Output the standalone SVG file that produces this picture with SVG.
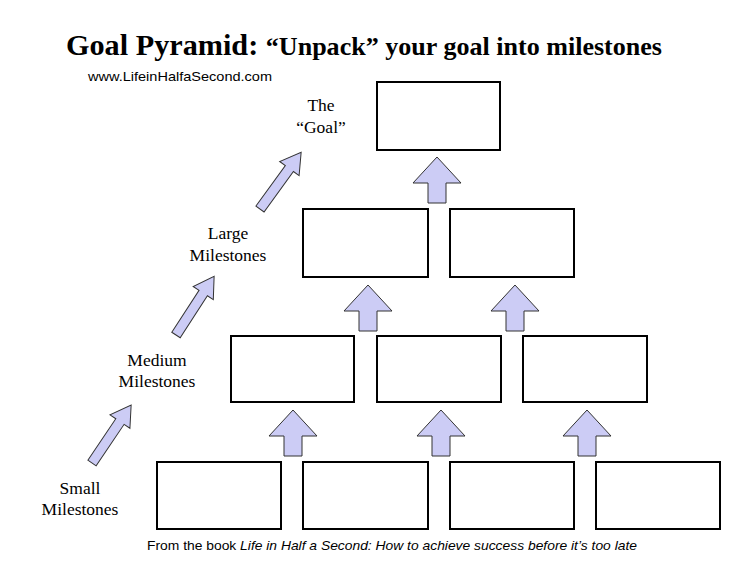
<svg xmlns="http://www.w3.org/2000/svg" width="740" height="568" viewBox="0 0 740 568">
<style>
.box{fill:#fff;stroke:#000;stroke-width:2}
.arr{fill:#ccccf5;stroke:#333;stroke-width:1}
.lbl{font-family:"Liberation Serif",serif;font-size:17.5px;text-anchor:middle;fill:#000}
</style>
<defs>
<path id="up" d="M-9,46 L-9,26 L-24,26 L0,0 L24,26 L9,26 L9,46 Z"/>
<path id="diag" d="M0,-5 L50,-5 L50,-12 L70,0 L50,12 L50,5 L0,5 Z"/>
</defs>
<rect width="740" height="568" fill="#fff"/>
<text x="66" y="55" font-family="Liberation Serif,serif" font-weight="bold" fill="#000" textLength="596" lengthAdjust="spacingAndGlyphs"><tspan font-size="29">Goal Pyramid: </tspan><tspan font-size="25">“Unpack” your goal into milestones</tspan></text>
<text x="88" y="81" font-family="Liberation Sans,sans-serif" font-size="13" fill="#000" textLength="184" lengthAdjust="spacingAndGlyphs">www.LifeinHalfaSecond.com</text>
<g id="labels">
<text class="lbl" x="321" y="111">The</text><text class="lbl" x="321" y="133">“Goal”</text>
<text class="lbl" x="228" y="239">Large</text><text class="lbl" x="228" y="261">Milestones</text>
<text class="lbl" x="157" y="366">Medium</text><text class="lbl" x="157" y="387">Milestones</text>
<text class="lbl" x="80" y="494">Small</text><text class="lbl" x="80" y="515">Milestones</text>
</g>
<g id="goal"><rect class="box" x="377" y="82" width="123" height="68"/></g>
<g id="large1"><rect class="box" x="303" y="209" width="125" height="68"/></g>
<g id="large2"><rect class="box" x="450" y="209" width="124" height="68"/></g>
<g id="medium1"><rect class="box" x="231" y="336" width="123" height="66"/></g>
<g id="medium2"><rect class="box" x="377" y="336" width="124" height="66"/></g>
<g id="medium3"><rect class="box" x="523" y="336" width="124" height="66"/></g>
<g id="small1"><rect class="box" x="157" y="462" width="124" height="67"/></g>
<g id="small2"><rect class="box" x="303" y="462" width="125" height="67"/></g>
<g id="small3"><rect class="box" x="450" y="462" width="124" height="67"/></g>
<g id="small4"><rect class="box" x="596" y="462" width="124" height="67"/></g>
<g id="connectors">
<use href="#up" class="arr" transform="translate(437,157)"/>
<use href="#up" class="arr" transform="translate(368,285)"/>
<use href="#up" class="arr" transform="translate(515,285)"/>
<use href="#up" class="arr" transform="translate(293,410)"/>
<use href="#up" class="arr" transform="translate(441,410)"/>
<use href="#up" class="arr" transform="translate(587,410)"/>
<use href="#diag" class="arr" transform="translate(260,209) rotate(-54)"/>
<use href="#diag" class="arr" transform="translate(176,335) rotate(-57)"/>
<use href="#diag" class="arr" transform="translate(92,463) rotate(-56)"/>
</g>
<text x="147" y="550" font-family="Liberation Sans,sans-serif" font-size="13" fill="#000" textLength="490" lengthAdjust="spacingAndGlyphs">From the book <tspan font-style="italic">Life in Half a Second: How to achieve success before it’s too late</tspan></text>
</svg>
